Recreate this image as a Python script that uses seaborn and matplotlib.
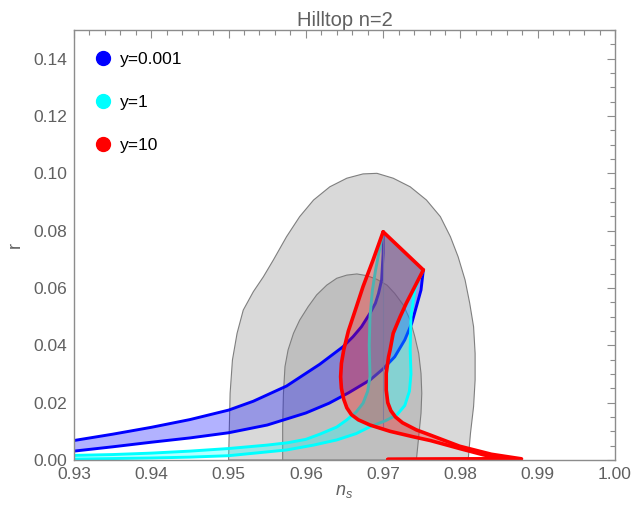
"""Hilltop n=2: n_s vs r bands for three y values over Planck-like contours."""

import matplotlib

matplotlib.use("Agg")
import matplotlib.pyplot as plt
import seaborn as sns
from matplotlib.lines import Line2D
from matplotlib.ticker import FormatStrFormatter, MultipleLocator

# observational contours (outer = 95%, inner = 68%)
outer_ns = [0.9500, 0.9501, 0.9502, 0.9505, 0.9511, 0.9519, 0.9532, 0.9545, 0.9558, 0.9575,
            0.9592, 0.9610, 0.9631, 0.9653, 0.9674, 0.9692, 0.9713, 0.9735, 0.9756, 0.9774,
            0.9787, 0.9797, 0.9806, 0.9812, 0.9817, 0.9819, 0.9819, 0.9817, 0.9813, 0.9810]
outer_r = [0.0, 0.0116, 0.0233, 0.0349, 0.0442, 0.0523, 0.0587, 0.0639, 0.0698, 0.0779,
           0.0849, 0.0907, 0.0953, 0.0983, 0.0998, 0.1000, 0.0983, 0.0953, 0.0907, 0.0849,
           0.0779, 0.0709, 0.0628, 0.0547, 0.0465, 0.0372, 0.0279, 0.0186, 0.0093, 0.0]
inner_ns = [0.9570, 0.9570, 0.9571, 0.9573, 0.9577, 0.9584, 0.9592, 0.9603, 0.9614, 0.9627,
            0.9640, 0.9653, 0.9666, 0.9679, 0.9692, 0.9705, 0.9715, 0.9726, 0.9735, 0.9741,
            0.9746, 0.9749, 0.9750, 0.9749, 0.9746, 0.9743]
inner_r = [0.0, 0.0116, 0.0233, 0.0326, 0.0384, 0.0442, 0.0488, 0.0535, 0.0576, 0.0610,
           0.0634, 0.0645, 0.0649, 0.0643, 0.0630, 0.0610, 0.0581, 0.0541, 0.0488, 0.0430,
           0.0372, 0.0302, 0.0233, 0.0163, 0.0081, 0.0]

# y = 0.001
blue1_ns = [0.930, 0.935, 0.940, 0.945, 0.950, 0.9532, 0.9575, 0.9618, 0.9648, 0.9661,
            0.9672, 0.9683, 0.9690, 0.9694, 0.9698, 0.9700, 0.9700]
blue1_r = [0.0068, 0.0090, 0.0114, 0.0141, 0.0174, 0.0205, 0.0258, 0.0334, 0.0395, 0.0430,
           0.0465, 0.0512, 0.0547, 0.0581, 0.0628, 0.0721, 0.0796]
blue2_ns = [0.930, 0.935, 0.940, 0.945, 0.950, 0.955, 0.960, 0.9630, 0.9655, 0.9683,
            0.9700, 0.9715, 0.9728, 0.9737, 0.9743, 0.9749, 0.9752]
blue2_r = [0.0031, 0.0046, 0.0062, 0.0077, 0.0095, 0.0122, 0.0164, 0.0198, 0.0234, 0.0279,
           0.0318, 0.0360, 0.0419, 0.0477, 0.0535, 0.0593, 0.0663]

# y = 1
cyan1_ns = [0.930, 0.935, 0.940, 0.945, 0.950, 0.955, 0.9576, 0.960, 0.9618, 0.9640,
            0.9653, 0.9665, 0.9674, 0.9680, 0.9683, 0.9682, 0.9683, 0.9686, 0.9690, 0.9695,
            0.9700]
cyan1_r = [0.0016, 0.0019, 0.0024, 0.0031, 0.0040, 0.0052, 0.0060, 0.0072, 0.0090, 0.0115,
           0.0140, 0.0167, 0.0198, 0.0240, 0.0291, 0.0400, 0.0500, 0.0590, 0.0660, 0.0730,
           0.0796]
cyan2_ns = [0.930, 0.935, 0.940, 0.945, 0.950, 0.9575, 0.9610, 0.9640, 0.9665, 0.9683,
            0.9703, 0.9718, 0.9728, 0.9734, 0.9736, 0.9735, 0.9736, 0.9741, 0.9747, 0.9752]
cyan2_r = [0.0003, 0.0005, 0.0007, 0.0010, 0.0015, 0.0035, 0.0052, 0.0070, 0.0092, 0.0116,
           0.0137, 0.0158, 0.0190, 0.0240, 0.0300, 0.0384, 0.0500, 0.0593, 0.0635, 0.0663]

# y = 10
red1_ns = [0.9700, 0.9687, 0.9674, 0.9664, 0.9655, 0.9649, 0.9646, 0.9645, 0.9646, 0.9649,
           0.9653, 0.9659, 0.9668, 0.9683, 0.9709, 0.9739, 0.9761, 0.9799, 0.9830, 0.9855,
           0.9706]
red1_r = [0.0796, 0.0698, 0.0605, 0.0523, 0.0450, 0.0384, 0.0337, 0.0290, 0.0250, 0.0212,
          0.0182, 0.0158, 0.0140, 0.0122, 0.0100, 0.0081, 0.0068, 0.0040, 0.0018, 0.0004,
          0.0002]
red2_ns = [0.9752, 0.9741, 0.9730, 0.9722, 0.9713, 0.9709, 0.9707, 0.9704, 0.9704, 0.9706,
           0.9710, 0.9716, 0.9725, 0.9743, 0.9761, 0.9799, 0.9840, 0.9879, 0.9706]
red2_r = [0.0663, 0.0605, 0.0547, 0.0500, 0.0442, 0.0384, 0.0360, 0.0302, 0.0244, 0.0200,
          0.0172, 0.0150, 0.0130, 0.0105, 0.0087, 0.0048, 0.0020, 0.0004, 0.0002]

# faint fill edge
edge_ns = [0.9700, 0.9700]
edge_r = [0.0796, 0.0105]

labels = ["y=0.001", "y=1", "y=10"]
colors = ["#0000ff", "#00ffff", "#ff0000"]

sns.set_theme(style="white")
plt.rcParams["font.family"] = ["Liberation Sans", "DejaVu Sans"]
plt.rcParams["mathtext.fontset"] = "custom"
plt.rcParams["mathtext.it"] = "Liberation Sans:italic"
plt.rcParams["mathtext.rm"] = "Liberation Sans"

fig = plt.figure(figsize=(6.44, 5.20), dpi=100)
ax = fig.add_axes([74 / 644, 60 / 520, 541 / 644, 430 / 520])

ax.fill(outer_ns, outer_r, facecolor="#d9d9d9", edgecolor="#7f7f7f", lw=0.8, zorder=1)
ax.fill(inner_ns, inner_r, facecolor="#bfbfbf", edgecolor="#7f7f7f", lw=0.8, zorder=2)


def band(ax, ns1, r1, ns2, r2, color, lw, z):
    poly_x = list(ns1) + list(ns2)[::-1]
    poly_y = list(r1) + list(r2)[::-1]
    ax.fill(poly_x, poly_y, facecolor=color, alpha=0.3, edgecolor="none", zorder=z)
    for xs, ys in [(ns1, r1), (ns2, r2)]:
        sns.lineplot(x=xs, y=ys, sort=False, estimator=None, color=color, lw=lw,
                     ax=ax, zorder=z + 0.1)


band(ax, blue1_ns, blue1_r, blue2_ns, blue2_r, colors[0], 2.1, 3)
ax.plot(edge_ns, edge_r, color="#5f86d8", lw=0.8, alpha=0.8, zorder=3.2)
band(ax, cyan1_ns, cyan1_r, cyan2_ns, cyan2_r, colors[1], 2.1, 4)

# red region: left curve, top edge, right curve
red_poly_x = red1_ns[:-1][::-1] + red2_ns[:-1]
red_poly_y = red1_r[:-1][::-1] + red2_r[:-1]
ax.fill(red_poly_x, red_poly_y, facecolor=colors[2], alpha=0.3, edgecolor="none", zorder=5)
for xs, ys in [(red1_ns, red1_r), (red2_ns, red2_r)]:
    sns.lineplot(x=xs, y=ys, sort=False, estimator=None, color=colors[2], lw=2.6,
                 ax=ax, zorder=5.1)
sns.lineplot(x=[red1_ns[0], red2_ns[0]], y=[red1_r[0], red2_r[0]], color=colors[2],
             lw=2.6, ax=ax, zorder=5.1)

ax.set_xlim(0.93, 1.00)
ax.set_ylim(0.0, 0.15)
ax.xaxis.set_major_locator(MultipleLocator(0.01))
ax.xaxis.set_minor_locator(MultipleLocator(0.002))
ax.yaxis.set_major_locator(MultipleLocator(0.02))
ax.yaxis.set_minor_locator(MultipleLocator(0.005))
ax.xaxis.set_major_formatter(FormatStrFormatter("%.2f"))
ax.yaxis.set_major_formatter(FormatStrFormatter("%.2f"))
ax.tick_params(which="both", direction="in", top=True, right=True, color="#8c8c8c",
               labelcolor="#606060", labelsize=12.5, width=0.8)
ax.tick_params(which="major", length=6, pad=5)
ax.tick_params(which="minor", length=3.5)
for sp in ax.spines.values():
    sp.set_color("#8c8c8c")
    sp.set_linewidth(1.0)
    sp.set_zorder(10)

ax.set_title("Hilltop n=2", color="#606060", fontsize=14.5, pad=3)
ax.set_xlabel("$n_s$", color="#606060", fontsize=13, labelpad=1)
ax.set_ylabel("r", color="#606060", fontsize=13, labelpad=7)

handles = [Line2D([], [], ls="none", marker="o", markersize=10, color=c) for c in colors]
leg = ax.legend(handles, labels, loc="upper left", bbox_to_anchor=(0.0, 0.985), frameon=False,
                fontsize=12.5, labelspacing=1.6, handletextpad=0.25, handlelength=1.5)
for t in leg.get_texts():
    t.set_color("black")

fig.savefig("out.png", dpi=100)
